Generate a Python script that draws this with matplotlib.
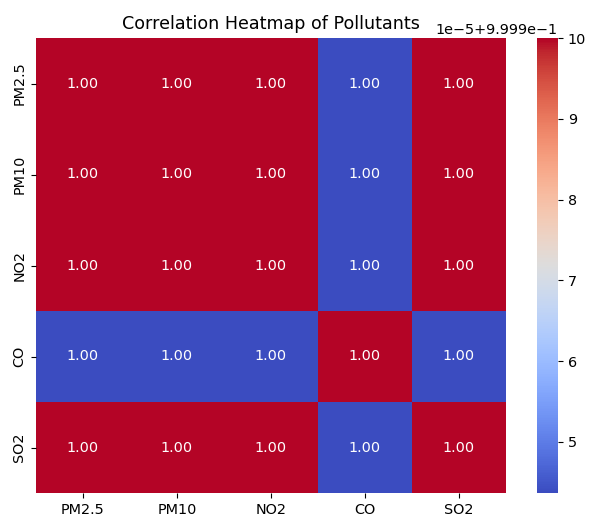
import matplotlib
matplotlib.use("Agg")
import matplotlib.pyplot as plt
import seaborn as sns
import numpy as np
import pandas as pd

pollutants = ["PM2.5", "PM10", "NO2", "CO", "SO2"]
row_pm25 = [1.0, 0.99999998, 0.99999997, 0.99994370, 0.99999996]
row_pm10 = [0.99999998, 1.0, 0.99999998, 0.99994372, 0.99999997]
row_no2 = [0.99999997, 0.99999998, 1.0, 0.99994368, 0.99999998]
row_co = [0.99994370, 0.99994372, 0.99994368, 1.0, 0.99994371]
row_so2 = [0.99999996, 0.99999997, 0.99999998, 0.99994371, 1.0]

corr = pd.DataFrame([row_pm25, row_pm10, row_no2, row_co, row_so2],
                    index=pollutants, columns=pollutants)

fs = 10.4
fig = plt.figure(figsize=(5.89, 5.19), dpi=100)
ax = fig.add_axes([36/589, 26/519, 470/589, 455/519])
cax = fig.add_axes([537/589, 26/519, 21/589, 455/519])

sns.heatmap(corr, annot=True, fmt=".2f", cmap="coolwarm", ax=ax, cbar_ax=cax,
            annot_kws={"fontsize": fs})
ax.set_title("Correlation Heatmap of Pollutants", fontsize=12.6, pad=6.2)
ax.tick_params(labelsize=fs)
cax.tick_params(labelsize=fs)
cax.yaxis.set_offset_position("right")
cax.yaxis.get_offset_text().set_fontsize(fs)

fig.savefig("out.png", dpi=100)
